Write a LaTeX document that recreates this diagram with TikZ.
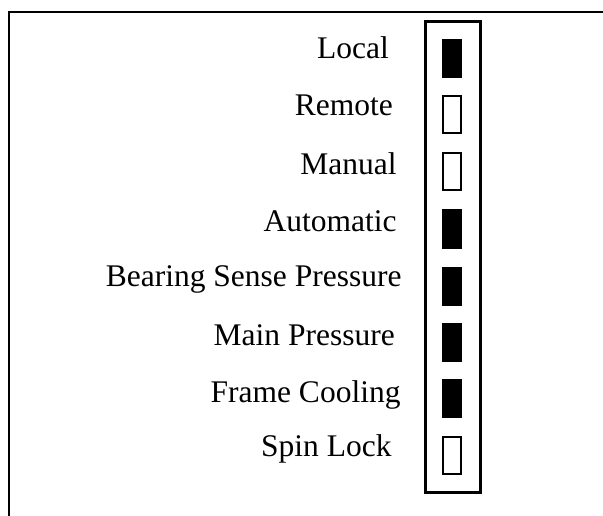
\documentclass[tikz,border=0pt]{standalone}
\usepackage{fontspec}
\setmainfont{Liberation Serif}
\begin{document}
\begin{tikzpicture}[x=1pt,y=-1pt,
  lbl/.style={anchor=base east, inner sep=0pt, font=\fontsize{31.5}{36}\selectfont},
  lamp/.style={draw=black, line width=2pt, minimum width=18pt, minimum height=37pt, inner sep=0pt, anchor=center},
  lampon/.style={lamp, fill=black},
  lampoff/.style={lamp, fill=white},
  panelbox/.style={draw=black, line width=3pt, inner sep=0pt, minimum width=54.5pt, minimum height=471pt}]
\useasboundingbox (0,0) rectangle (603,516);
% outer frame (top and left edges)
\draw[line width=2.5pt] (9,516) -- (9,12) -- (603,12);
% panel
\node[panelbox] (panel) at (452.75,257) {};
% labels
\node[lbl] (tLocal) at (389,59) {Local};
\node[lbl] (tRemote) at (393,116) {Remote};
\node[lbl] (tManual) at (396.7,175) {Manual};
\node[lbl] (tAuto) at (396.7,232) {Automatic};
\node[lbl] (tBearing) at (401.7,286) {Bearing Sense Pressure};
\node[lbl] (tMain) at (395,345) {Main Pressure};
\node[lbl] (tFrame) at (400.7,402) {Frame Cooling};
\node[lbl] (tSpin) at (391.7,456) {Spin Lock};
% lamps
\node[lampon] (lLocal) at (452,59) {};
\node[lampoff] (lRemote) at (452,115) {};
\node[lampoff] (lManual) at (452,172) {};
\node[lampon] (lAuto) at (452,229) {};
\node[lampon] (lBearing) at (452,286) {};
\node[lampon] (lMain) at (452,342.5) {};
\node[lampon] (lFrame) at (452,398.5) {};
\node[lampoff] (lSpin) at (452,455.5) {};
\end{tikzpicture}
\end{document}
